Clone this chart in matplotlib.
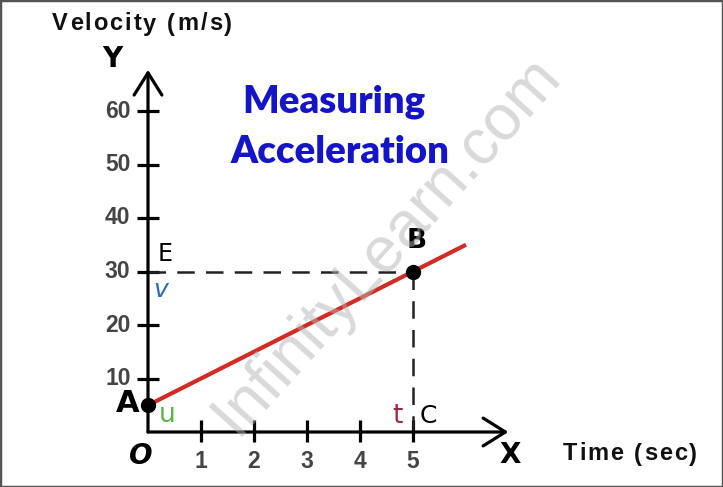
import matplotlib
matplotlib.use("Agg")
import matplotlib.pyplot as plt
from matplotlib.patches import Rectangle
from matplotlib.font_manager import FontProperties

# ---- data ----
time_ticks = [1, 2, 3, 4, 5]
velocity_ticks = [10, 20, 30, 40, 50, 60]
line_time = [0, 6]
line_velocity = [5, 35]
point_A = (0, 5)
point_B = (5, 30)
axis_x_end = 6.8
axis_y_end = 67.7

# pixel mapping: origin at (148, 432), 53 px per sec, 5.35 px per m/s
W, H = 723, 487
ox, oy, sx, sy = 148, 432, 53.0, 5.35

fig = plt.figure(figsize=(W / 100, H / 100), dpi=100)
ax = fig.add_axes([0, 0, 1, 1])
ax.set_xlim(-ox / sx, (W - ox) / sx)
ax.set_ylim(-(H - oy) / sy, oy / sy)
ax.axis("off")
renderer = fig.canvas.get_renderer()


def spaced_text(x_px, y_px, s, size, spacing_px, align="left", **kw):
    prop = FontProperties(family="Liberation Sans", weight="bold", size=size)
    widths = []
    for c in s:
        if c == " ":
            widths.append(0.30 * size * 100 / 72)
        else:
            w, h, d = renderer.get_text_width_height_descent(c, prop, ismath=False)
            widths.append(w)
    total = sum(widths) + spacing_px * (len(s) - 1)
    x = x_px if align == "left" else x_px - total
    for c, w in zip(s, widths):
        if c != " ":
            fig.text(x / W, 1 - y_px / H, c, ha="left", va="center",
                     fontproperties=prop, **kw)
        x += w + spacing_px


# border
fig.patches.append(Rectangle((0, 0), 1, 1, transform=fig.transFigure, fill=False,
                             edgecolor="#555555", lw=2.5))

# axes with arrows
arrow_style = "->,head_length=0.8,head_width=0.5"
ax.annotate("", xy=(0, axis_y_end), xytext=(0, 0),
            arrowprops=dict(arrowstyle=arrow_style, lw=2.3, color="black",
                            shrinkA=0, shrinkB=0, mutation_scale=20))
ax.annotate("", xy=(axis_x_end, 0), xytext=(0, 0),
            arrowprops=dict(arrowstyle=arrow_style, lw=2.3, color="black",
                            shrinkA=0, shrinkB=0, mutation_scale=20))

tick_font = dict(family="Liberation Sans", weight="bold", color="#454545", fontsize=16.5)
for v in velocity_ticks:
    ax.plot([-0.21, 0.21], [v, v], color="black", lw=2.3, solid_capstyle="butt")
    ax.text(-0.33, v, str(v), ha="right", va="center", **tick_font)
for t in time_ticks:
    ax.plot([t, t], [-1.9, 2.2], color="black", lw=2.3, solid_capstyle="butt")
    ax.text(t, -5.5, str(t), ha="center", va="center", **tick_font)

# dashed guides
ax.plot([0, point_B[0]], [point_B[1], point_B[1]], color="#222222", lw=1.8,
        dashes=(7, 4.5))
ax.plot([point_B[0], point_B[0]], [point_B[1], -1.9], color="#222222", lw=1.8,
        dashes=(7, 4.5))

# red line
ax.plot(line_time, line_velocity, color="#d42a22", lw=3, solid_capstyle="butt", zorder=3)
ax.plot([point_A[0], point_B[0]], [point_A[1], point_B[1]], "o", color="black",
        ms=10, zorder=4)

# letters
lab = dict(family="DejaVu Sans", color="black")
ax.text(-0.39, 5.3, "A", ha="center", va="center", fontsize=22, weight="bold", **lab)
ax.text(0.36, 3.2, "u", ha="center", va="center", fontsize=19, color="#5cb347",
        family="DejaVu Sans")
ax.text(0.32, 33.3, "E", ha="center", va="center", fontsize=17, **lab)
ax.text(0.24, 26.5, "v", ha="center", va="center", fontsize=18, color="#2a6db0",
        family="DejaVu Sans", style="italic")
ax.text(5.07, 35.7, "B", ha="center", va="center", fontsize=19, weight="bold", **lab)
ax.text(4.71, 2.9, "t", ha="center", va="center", fontsize=19, color="#9c2a44",
        family="DejaVu Sans")
ax.text(5.28, 2.9, "C", ha="center", va="center", fontsize=18, **lab)
ax.text(-0.13, -4.5, "O", ha="center", va="center", fontsize=20, weight="bold",
        style="italic", **lab)
ax.text(6.83, -4.3, "X", ha="center", va="center", fontsize=20, weight="bold", **lab)
ax.text(-0.68, 69.8, "Y", ha="center", va="center", fontsize=20, weight="bold", **lab)

spaced_text(52, 24, "Velocity (m/s)", 17, 2.0, color="#111111")
spaced_text(697, 454, "Time (sec)", 17, 1.9, align="right", color="#111111")

# title
title_font = dict(family="Lato", weight="heavy", color="#1414c8", fontsize=27.5)
ax.text(334 / W, 1 - 102 / H, "Measuring", transform=fig.transFigure, ha="center",
        va="center", **title_font)
ax.text(340 / W, 1 - 152 / H, "Acceleration", transform=fig.transFigure, ha="center",
        va="center", **title_font)

# watermark
ax.text(386 / W, 1 - 245 / H, "InfinityLearn.com", transform=fig.transFigure,
        ha="center", va="center", rotation=48, fontsize=46, family="Liberation Sans",
        color="#b4b4b4", alpha=0.5, zorder=5)

fig.savefig("out.png", dpi=100)
